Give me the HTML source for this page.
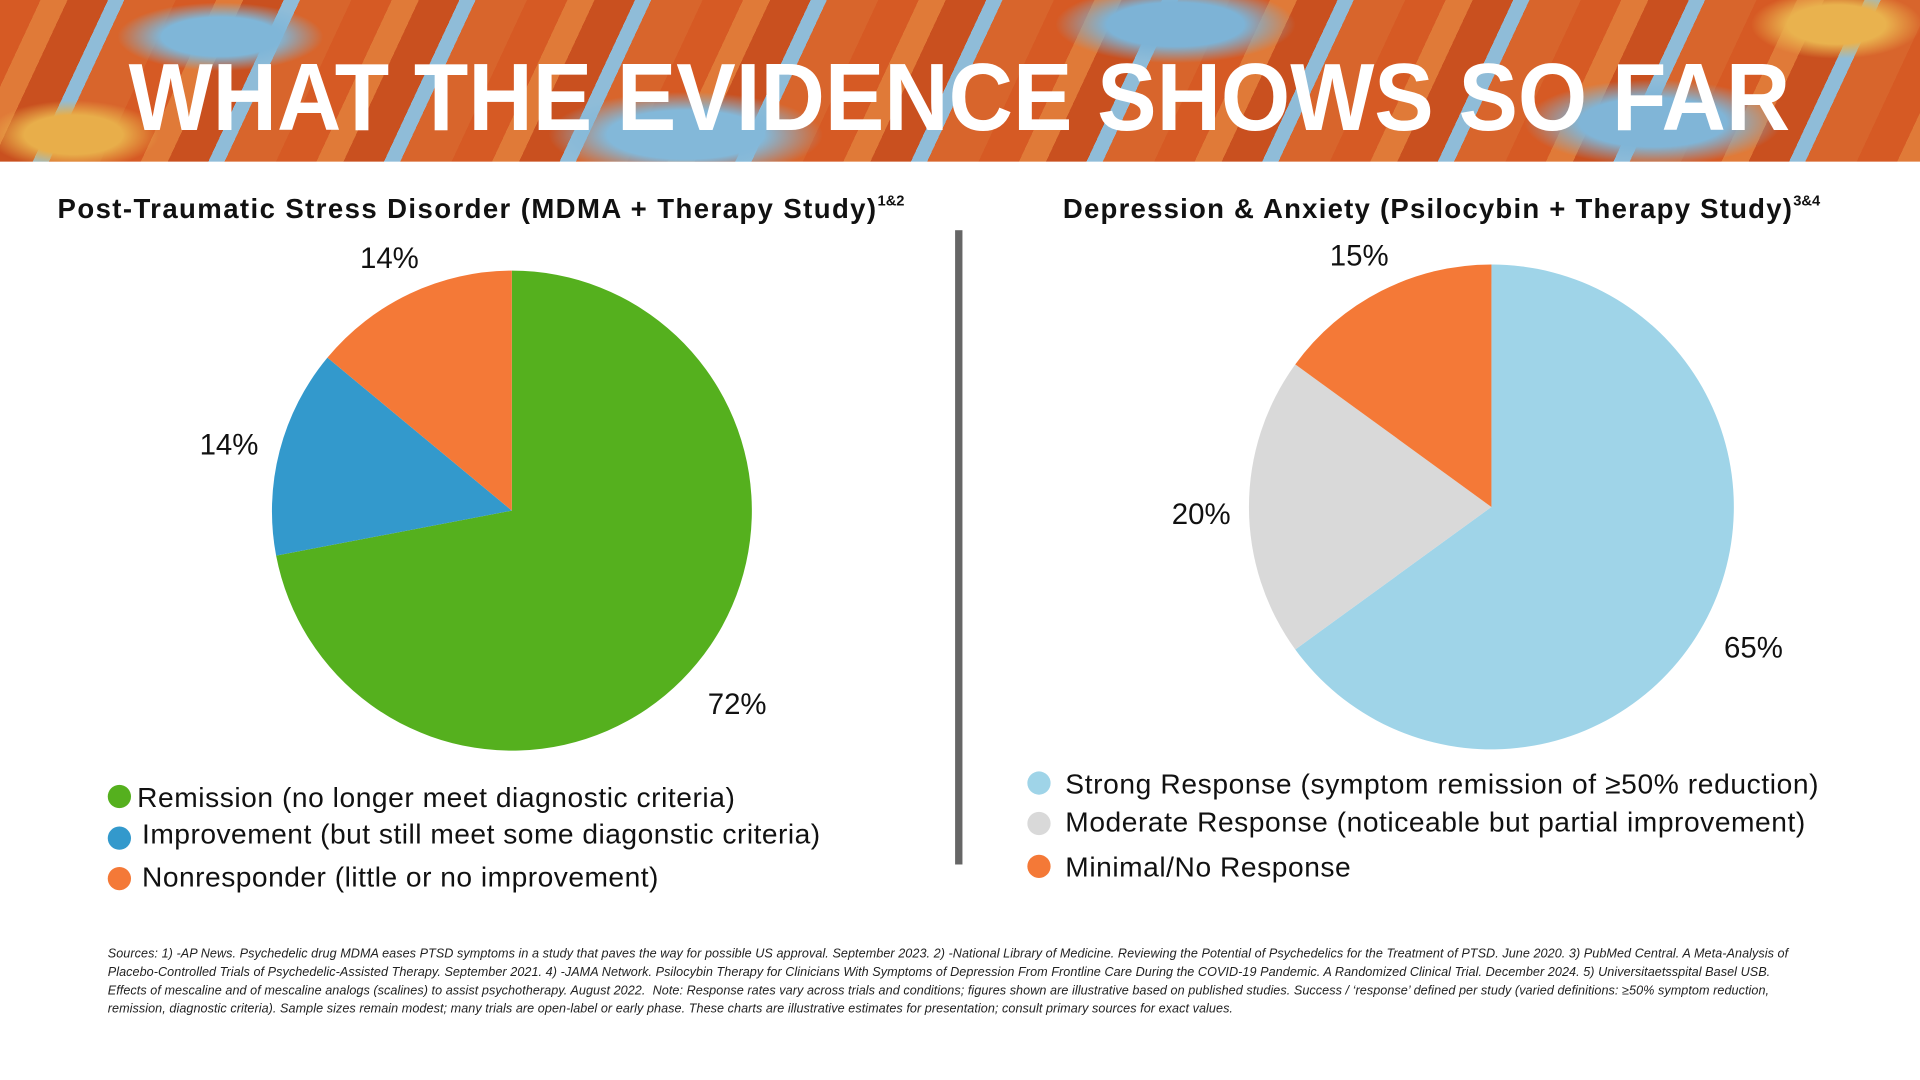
<!DOCTYPE html>
<html><head><meta charset="utf-8"><style>
html,body{margin:0;padding:0;background:#fff;width:1920px;height:1080px;overflow:hidden}
#w{position:absolute;left:0;top:0;width:1568px;height:882px;transform:scale(1.22449);transform-origin:0 0;font-family:"Liberation Sans",sans-serif}
.banner{position:absolute;left:0;top:0;width:1568px;height:132px;overflow:hidden;
background:
radial-gradient(ellipse 120px 40px at 180px 30px,#7fb6d8 40%,transparent 70%),
radial-gradient(ellipse 160px 50px at 560px 110px,#83b8d9 40%,transparent 70%),
radial-gradient(ellipse 140px 45px at 960px 20px,#7db3d6 40%,transparent 70%),
radial-gradient(ellipse 150px 50px at 1350px 100px,#80b5d7 40%,transparent 70%),
radial-gradient(ellipse 100px 40px at 1500px 20px,#e9b24e 40%,transparent 70%),
radial-gradient(ellipse 100px 40px at 60px 110px,#e8ae4a 40%,transparent 70%),
repeating-linear-gradient(115deg,#d65a24 0 30px,#e07a38 30px 50px,#c9501f 50px 80px,#8fbcd8 80px 92px,#d8652c 92px 130px);}
.lbl{position:absolute;font-size:24px;color:#111;transform:translateX(-50%)}
.h{position:absolute;font-weight:bold;font-size:22.5px;color:#111;white-space:nowrap}
.h sup{font-size:12px;position:relative;top:-2px;letter-spacing:0}
.leg{position:absolute;font-size:23px;color:#111;white-space:nowrap}
.dot{position:absolute;width:19px;height:19px;border-radius:50%}
.src{position:absolute;left:88px;top:772px;width:1392px;font-size:10.3px;line-height:15px;font-style:italic;color:#222;letter-spacing:0.05px}
</style></head><body><div id="w">
<div class="banner"></div>
<svg style="position:absolute;left:0;top:0" width="1568" height="132"><text x="105" y="106" textLength="1357" lengthAdjust="spacingAndGlyphs" font-family="Liberation Sans" font-weight="bold" font-size="78" fill="#fff">WHAT THE EVIDENCE SHOWS SO FAR</text></svg>

<div class="h" style="left:47px;top:158px;letter-spacing:1.15px">Post-Traumatic Stress Disorder (MDMA + Therapy Study)<sup>1&amp;2</sup></div>
<div class="h" style="left:868px;top:158px;letter-spacing:1px">Depression &amp; Anxiety (Psilocybin + Therapy Study)<sup>3&amp;4</sup></div>
<div style="position:absolute;left:780px;top:188px;width:6px;height:518px;background:#666"></div>

<svg style="position:absolute;left:0;top:0" width="1568" height="882">
<path d="M418 417 L418 221 A196 196 0 1 1 225.5 453.8 Z" fill="#55b01e"/>
<path d="M418 417 L225.5 453.8 A196 196 0 0 1 267.4 292.1 Z" fill="#3399cc"/>
<path d="M418 417 L267.4 292.1 A196 196 0 0 1 418 221 Z" fill="#f47937"/>
<path d="M1218 414 L1218 216 A198 198 0 1 1 1057.8 530.4 Z" fill="#9fd4e8"/>
<path d="M1218 414 L1057.8 530.4 A198 198 0 0 1 1057.8 297.6 Z" fill="#d9d9d9"/>
<path d="M1218 414 L1057.8 297.6 A198 198 0 0 1 1218 216 Z" fill="#f47937"/>
</svg>

<div class="lbl" style="left:318px;top:198px">14%</div>
<div class="lbl" style="left:187px;top:350px">14%</div>
<div class="lbl" style="left:602px;top:562px">72%</div>
<div class="lbl" style="left:1110px;top:196px">15%</div>
<div class="lbl" style="left:981px;top:407px">20%</div>
<div class="lbl" style="left:1432px;top:516px">65%</div>

<div class="dot" style="left:88px;top:641px;background:#55b01e"></div>
<div class="leg" style="left:112px;top:638px;letter-spacing:0.45px">Remission (no longer meet diagnostic criteria)</div>
<div class="dot" style="left:88px;top:675px;background:#3399cc"></div>
<div class="leg" style="left:116px;top:668px;letter-spacing:0.4px">Improvement (but still meet some diagonstic criteria)</div>
<div class="dot" style="left:88px;top:708px;background:#f47937"></div>
<div class="leg" style="left:116px;top:703px;letter-spacing:0.4px">Nonresponder (little or no improvement)</div>

<div class="dot" style="left:839px;top:630px;background:#9fd4e8"></div>
<div class="leg" style="left:870px;top:627px;letter-spacing:0.5px">Strong Response (symptom remission of ≥50% reduction)</div>
<div class="dot" style="left:839px;top:663px;background:#d9d9d9"></div>
<div class="leg" style="left:870px;top:658px;letter-spacing:0.45px">Moderate Response (noticeable but partial improvement)</div>
<div class="dot" style="left:839px;top:698px;background:#f47937"></div>
<div class="leg" style="left:870px;top:695px;letter-spacing:0.45px">Minimal/No Response</div>

<div class="src">Sources: 1) -AP News. Psychedelic drug MDMA eases PTSD symptoms in a study that paves the way for possible US approval. September 2023. 2) -National Library of Medicine. Reviewing the Potential of Psychedelics for the Treatment of PTSD. June 2020. 3) PubMed Central. A Meta-Analysis of Placebo-Controlled Trials of Psychedelic-Assisted Therapy. September 2021. 4) -JAMA Network. Psilocybin Therapy for Clinicians With Symptoms of Depression From Frontline Care During the COVID-19 Pandemic. A Randomized Clinical Trial. December 2024. 5) Universitaetsspital Basel USB. Effects of mescaline and of mescaline analogs (scalines) to assist psychotherapy. August 2022.&nbsp; Note: Response rates vary across trials and conditions; figures shown are illustrative based on published studies. Success / ‘response’ defined per study (varied definitions: ≥50% symptom reduction, remission, diagnostic criteria). Sample sizes remain modest; many trials are open-label or early phase. These charts are illustrative estimates for presentation; consult primary sources for exact values.</div>
</div></body></html>
